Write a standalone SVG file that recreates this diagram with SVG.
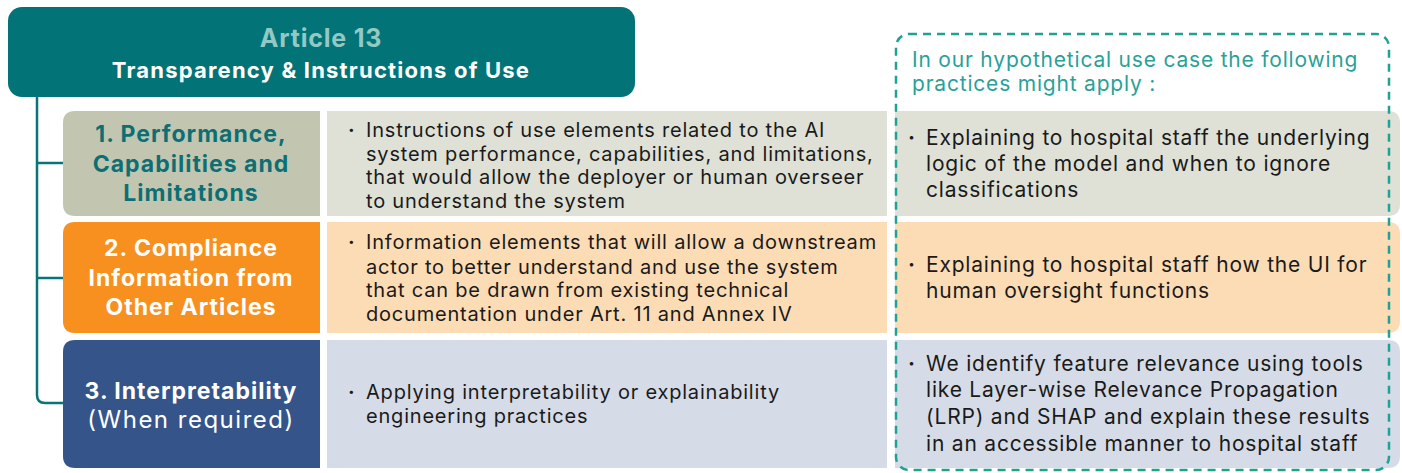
<svg xmlns="http://www.w3.org/2000/svg" width="1402" height="473" viewBox="0 0 1402 473">
<style>
.t{font-family:Inter,"Noto Sans",sans-serif;font-size:20px;letter-spacing:0.8px;fill:#1a1a1a}
.r{font-family:Inter,"Noto Sans",sans-serif;font-size:21px;letter-spacing:0.8px;fill:#1a1a1a}
.b{font-weight:bold}
.lab{font-family:Inter,"Noto Sans",sans-serif;font-size:23px;letter-spacing:1px;font-weight:bold;text-anchor:middle}
.ttl{font-family:Inter,"Noto Sans",sans-serif;font-size:21px;letter-spacing:0.8px;fill:#2aa198}
.conn{fill:none;stroke:#077478;stroke-width:2.5}
</style>
<rect width="1402" height="473" fill="#ffffff"/>
<g id="header">
<rect x="8" y="7" width="627" height="90" rx="14" fill="#027377"/>
<text x="321" y="47" font-family="Inter,'Noto Sans',sans-serif" font-size="25" letter-spacing="0.8" font-weight="bold" fill="#93c9c4" text-anchor="middle">Article 13</text>
<text x="321" y="78" font-family="Inter,'Noto Sans',sans-serif" font-size="22" letter-spacing="1.2" font-weight="bold" fill="#ffffff" text-anchor="middle">Transparency &amp; Instructions of Use</text>
</g>
<g id="connectors">
<path class="conn" d="M37 97 V395 Q37 403 45 403 H63"/>
<path class="conn" d="M37 163 H63"/>
<path class="conn" d="M37 278 H63"/>
</g>
<g id="row1">
<path d="M75 111 H320 V216 H75 Q63 216 63 204 V123 Q63 111 75 111 Z" fill="#c2c6b0"/>
<rect x="327" y="111" width="560" height="105" fill="#dfe1d6"/>
<path d="M895 111 H1388 Q1400 111 1400 123 V204 Q1400 216 1388 216 H895 Z" fill="#dfe1d6"/>
<text class="lab" fill="#0d6f73"><tspan x="191" y="142">1. Performance,</tspan><tspan x="191" y="172">Capabilities and</tspan><tspan x="191" y="201">Limitations</tspan></text>
<text class="t"><tspan class="b" x="348" y="137">·</tspan><tspan x="366" y="137">Instructions of use elements related to the AI</tspan><tspan x="366" y="161">system performance, capabilities, and limitations,</tspan><tspan x="366" y="184">that would allow the deployer or human overseer</tspan><tspan x="366" y="208">to understand the system</tspan></text>
<text class="r"><tspan class="b" x="908" y="145">·</tspan><tspan x="926" y="145">Explaining to hospital staff the underlying</tspan><tspan x="926" y="171">logic of the model and when to ignore</tspan><tspan x="926" y="197">classifications</tspan></text>
</g>
<g id="row2">
<path d="M75 222 H320 V333 H75 Q63 333 63 321 V234 Q63 222 75 222 Z" fill="#f7901e"/>
<rect x="327" y="222" width="560" height="111" fill="#fcdcb5"/>
<path d="M895 222 H1388 Q1400 222 1400 234 V321 Q1400 333 1388 333 H895 Z" fill="#fcdcb5"/>
<text class="lab" fill="#ffffff"><tspan x="191" y="256">2. Compliance</tspan><tspan x="191" y="286">Information from</tspan><tspan x="191" y="315">Other Articles</tspan></text>
<text class="t"><tspan class="b" x="348" y="249">·</tspan><tspan x="366" y="249">Information elements that will allow a downstream</tspan><tspan x="366" y="274">actor to better understand and use the system</tspan><tspan x="366" y="297">that can be drawn from existing technical</tspan><tspan x="366" y="321">documentation under Art. 11 and Annex IV</tspan></text>
<text class="r"><tspan class="b" x="908" y="272">·</tspan><tspan x="926" y="272">Explaining to hospital staff how the UI for</tspan><tspan x="926" y="298">human oversight functions</tspan></text>
</g>
<g id="row3">
<path d="M75 340 H320 V468 H75 Q63 468 63 456 V352 Q63 340 75 340 Z" fill="#34548a"/>
<rect x="327" y="340" width="560" height="128" fill="#d6dce7"/>
<path d="M895 340 H1388 Q1400 340 1400 352 V456 Q1400 468 1388 468 H895 Z" fill="#d6dce7"/>
<text class="lab" fill="#ffffff"><tspan x="191" y="399">3. Interpretability</tspan><tspan x="191" y="428" font-weight="normal" font-size="24" letter-spacing="1.5">(When required)</tspan></text>
<text class="t"><tspan class="b" x="348" y="399">·</tspan><tspan x="366" y="399">Applying interpretability or explainability</tspan><tspan x="366" y="423">engineering practices</tspan></text>
<text class="r"><tspan class="b" x="908" y="371">·</tspan><tspan x="926" y="371">We identify feature relevance using tools</tspan><tspan x="926" y="397">like Layer-wise Relevance Propagation</tspan><tspan x="926" y="424">(LRP) and SHAP and explain these results</tspan><tspan x="926" y="451">in an accessible manner to hospital staff</tspan></text>
</g>
<g id="usecase">
<rect x="896" y="34" width="493" height="436" rx="13" fill="none" stroke="#1fa293" stroke-width="2.5" stroke-dasharray="8 6"/>
<text class="ttl"><tspan x="912" y="67">In our hypothetical use case the following</tspan><tspan x="912" y="91">practices might apply :</tspan></text>
</g>
</svg>
